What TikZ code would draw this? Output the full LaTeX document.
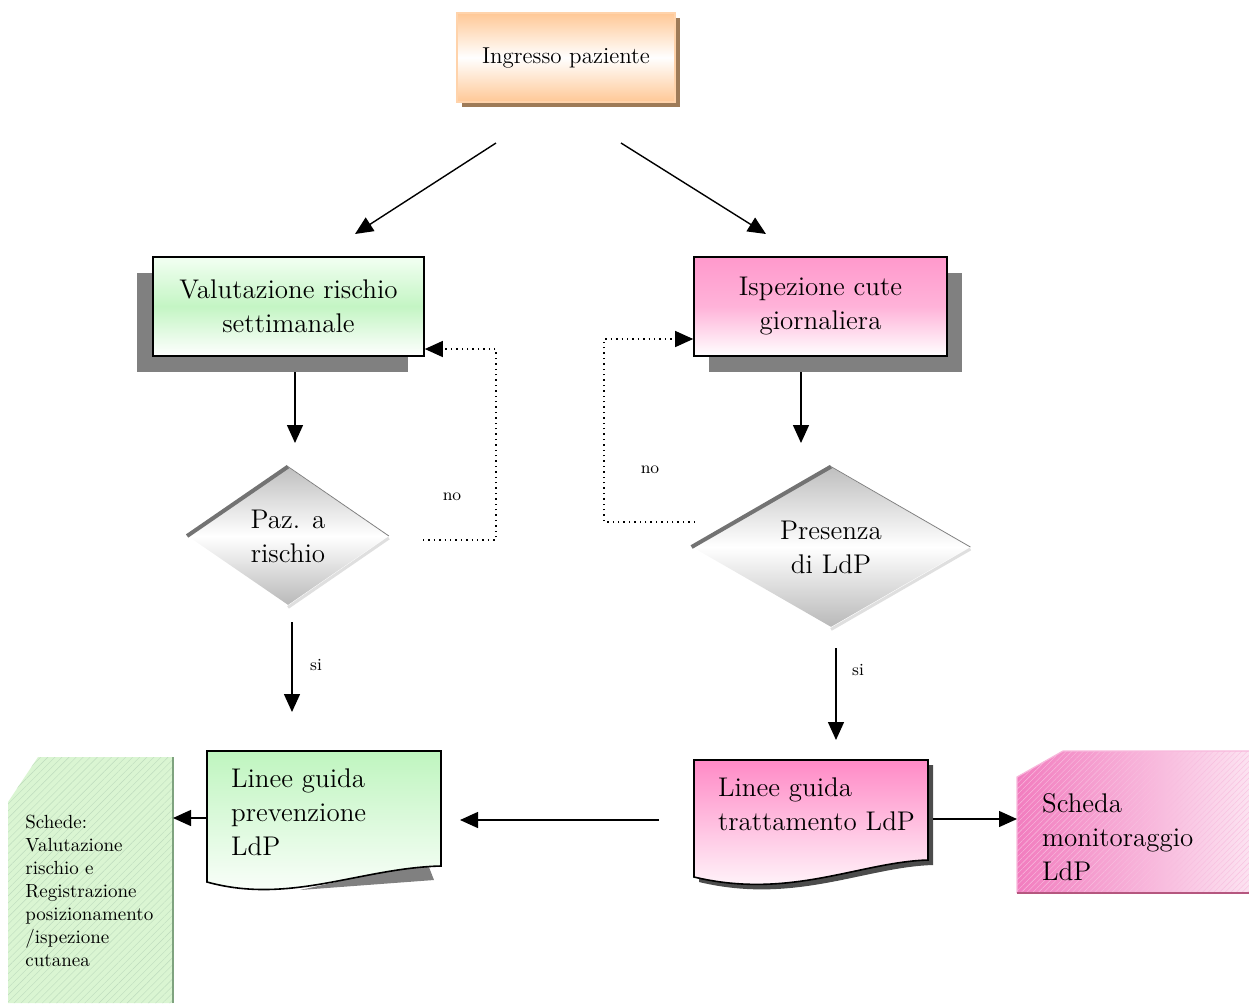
\documentclass[tikz,border=0pt]{standalone}
\usetikzlibrary{arrows.meta,shapes.geometric,patterns.meta}
\definecolor{ingorange}{HTML}{FFC896}
\definecolor{ingshadow}{HTML}{9E7B58}
\definecolor{valgreen}{HTML}{C4F5C4}
\definecolor{isppink}{HTML}{FF99CC}
\definecolor{docpink}{HTML}{FF8AC6}
\definecolor{docgreen}{HTML}{BFF5BF}
\definecolor{schgreen}{HTML}{DAF5D2}
\definecolor{schline}{HTML}{7FA37F}
\definecolor{monpink}{HTML}{F27DBF}
\definecolor{monline}{HTML}{B5577F}
\newcommand{\bigtxt}{\fontsize{13.5}{17}\selectfont}

\begin{document}
\begin{tikzpicture}
[x=0.5pt, y=-0.5pt,
box/.style={draw, line width=0.8pt, minimum height=49.5pt, align=center, font=\bigtxt},
decision/.style={diamond, inner sep=0pt, align=center, font=\bigtxt,
                 top color=gray!50, bottom color=gray!55, middle color=white},
arr/.style={line width=0.7pt, -{Triangle[length=9pt,width=8pt]}},
backloop/.style={dotted, line width=0.6pt},
tag/.style={font=\fontsize{8.5}{10}\selectfont}
]
\useasboundingbox (0,0) rectangle (1249,1003);

% ingresso
\fill[ingshadow] (462,18) rectangle (680,107);
\node[draw=ingorange!80, line width=0.6pt, minimum width=109pt, minimum height=44.5pt,
      top color=ingorange, bottom color=ingorange, middle color=white,
      font=\fontsize{11.5}{13}\selectfont] (ing) at (566,57.5) {\raisebox{-5pt}{Ingresso paziente}};

% due valutazioni
\fill[black!50] (137,273) rectangle (408,372);
\node[box, minimum width=135.5pt, top color=green!5, bottom color=white, middle color=valgreen]
    (val) at (288.5,306.5) {Valutazione rischio\\settimanale};
\fill[black!50] (709,273) rectangle (962,372);
\node[box, minimum width=126.5pt, top color=isppink, bottom color=white, middle color=isppink!75]
    (isp) at (820.5,306.5) {Ispezione cute\\giornaliera};

% decisioni
\node[decision, minimum width=100.5pt, minimum height=69pt] (pz) at (288,536) {Paz. a\\rischio};
\draw[line width=2pt, black!55] (pz.west) -- (pz.north);
\draw[line width=0.4pt, gray] (pz.north) -- (pz.east);
\draw[line width=1.5pt, gray!25] ([yshift=-1pt]pz.east) -- ([yshift=-1pt]pz.south);
\node[decision, minimum width=139pt, minimum height=80pt] (pr) at (831,547) {Presenza\\di LdP};
\draw[line width=2pt, black!55] (pr.west) -- (pr.north);
\draw[line width=0.4pt, gray] (pr.north) -- (pr.east);
\draw[line width=1.5pt, gray!25] ([yshift=-1pt]pr.east) -- ([yshift=-1pt]pr.south);

% linee guida
\fill[black!50] (300,890) -- (427,862) -- (434,880) -- cycle;
\path[draw, line width=0.8pt, top color=docgreen, bottom color=white]
    (207,751) -- (441,751) -- (441,866) .. controls (360,868) and (290,905) .. (207,882) -- cycle;
\node[anchor=west, align=left, font=\bigtxt] (prev) at (224,812) {Linee guida\\prevenzione\\LdP};
\fill[black!70] (699,765) -- (933,765) -- (933,865) .. controls (865,867) and (795,905) .. (699,882) -- cycle;
\path[draw, line width=0.8pt, top color=docpink, bottom color=white]
    (694,760) -- (928,760) -- (928,860) .. controls (860,862) and (790,900) .. (694,877) -- cycle;
\node[anchor=west, align=left, font=\bigtxt] (trt) at (711,804) {Linee guida\\trattamento LdP};

% schede
\path[preaction={fill=schgreen}, pattern={Lines[angle=45,distance=2.5pt,line width=0.2pt]},
      pattern color=green!30!gray!40]
    (38,757) -- (173,757) -- (173,1003) -- (8,1003) -- (8,802) -- cycle;
\draw[schline, line width=1pt] (173,757) -- (173,1003);
\node[anchor=north west, align=left, inner sep=0pt, font=\fontsize{9.5}{11.5}\selectfont]
    (sch) at (25,815) {Schede:\\Valutazione\\rischio e\\Registrazione\\posizionamento\\/ispezione\\cutanea};
\path[preaction={left color=monpink, right color=monpink!22},
      pattern={Lines[angle=45,distance=2pt,line width=0.2pt]}, pattern color=white!50!monpink]
    (1063,751) -- (1249,751) -- (1249,893) -- (1017,893) -- (1017,777) -- cycle;
\draw[monpink!55, line width=0.6pt] (1249,751) -- (1063,751) -- (1017,777) -- (1017,893);
\draw[monline, line width=1.2pt] (1017,893) -- (1249,893);
\node[anchor=west, align=left, font=\bigtxt] (mon) at (1035,837) {Scheda\\monitoraggio\\LdP};

% estremi dei connettori
\coordinate (ing-l) at (496,143);
\coordinate (val-in) at (355,234);
\coordinate (ing-r) at (621,143);
\coordinate (isp-in) at (766,234);
\coordinate (val-out) at (295,372);
\coordinate (pz-in) at (295,443);
\coordinate (isp-out) at (801,372);
\coordinate (pr-in) at (801,443);
\coordinate (pz-si) at (292,622);
\coordinate (prev-in) at (292,712);
\coordinate (pr-si) at (836,648);
\coordinate (trt-in) at (836,740);
\coordinate (trt-l) at (659,820);
\coordinate (prev-r) at (460,820);
\coordinate (prev-l) at (207,818);
\coordinate (sch-r) at (173,818);
\coordinate (trt-r) at (933,819);
\coordinate (mon-l) at (1017,819);
\coordinate (pz-no) at (423,540);
\coordinate (val-no) at (496,349);
\coordinate (pr-no) at (695,522);
\coordinate (isp-no) at (604,339);

\draw[arr] (ing-l) -- (val-in);
\draw[arr] (ing-r) -- (isp-in);
\draw[arr] (val-out) -- (pz-in);
\draw[arr] (isp-out) -- (pr-in);
\draw[arr] (pz-si) -- (prev-in);
\draw[arr] (pr-si) -- (trt-in);
\draw[arr] (trt-l) -- (prev-r);
\draw[arr] (prev-l) -- (sch-r);
\draw[arr] (trt-r) -- (mon-l);
\draw[arr, backloop] (pz-no) -| (val-no) -- (val.east |- val-no);
\draw[arr, backloop] (pr-no) -| (isp-no) -- (isp.west |- isp-no);

\node[tag] (no-l) at (452,497) {no};
\node[tag] (no-r) at (650,470) {no};
\node[tag] (si-l) at (316,665) {si};
\node[tag] (si-r) at (858,670) {si};
\end{tikzpicture}
\end{document}
